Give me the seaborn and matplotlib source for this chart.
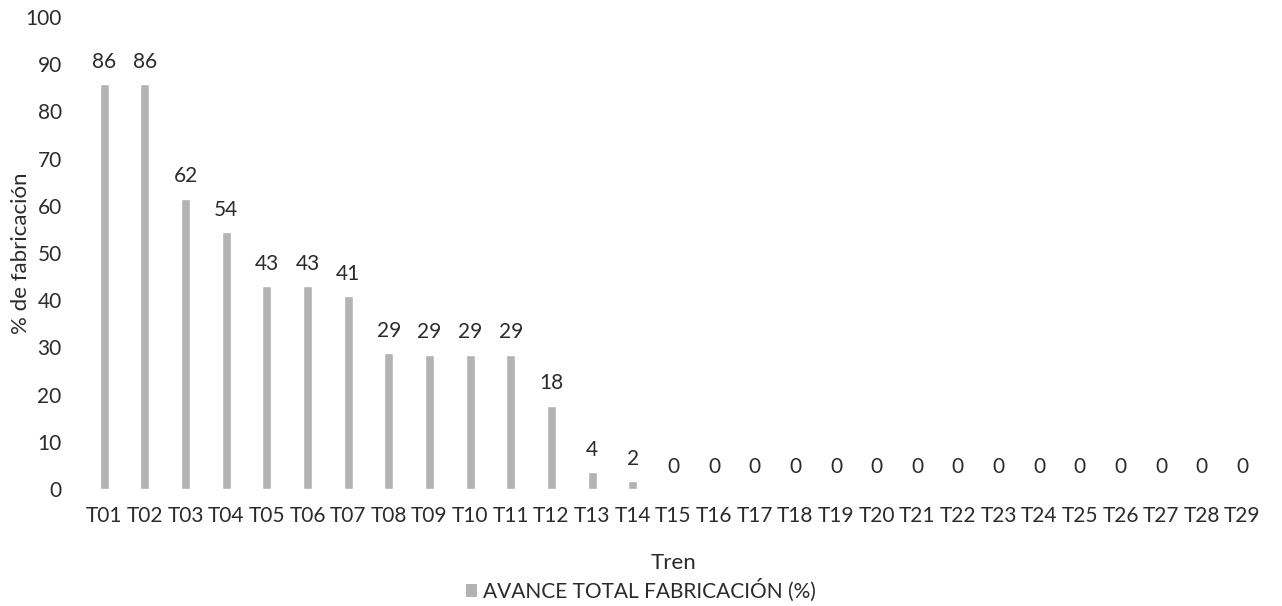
import matplotlib
matplotlib.use("Agg")
import matplotlib.pyplot as plt
import seaborn as sns
import pandas as pd
from matplotlib.patches import Patch

trenes = [f"T{i:02d}" for i in range(1, 30)]
avance = [85.7, 85.7, 61.5, 54.4, 43.0, 43.0, 40.8, 28.8, 28.4, 28.4, 28.4, 17.6, 3.6, 1.6,
          0, 0, 0, 0, 0, 0, 0, 0, 0, 0, 0, 0, 0, 0, 0]
etiquetas = ["86", "86", "62", "54", "43", "43", "41", "29", "29", "29", "29", "18", "4", "2",
             "0", "0", "0", "0", "0", "0", "0", "0", "0", "0", "0", "0", "0", "0", "0"]
serie = "AVANCE TOTAL FABRICACIÓN (%)"

df = pd.DataFrame({"Tren": trenes, "Avance": avance})

sns.set_style("white")
plt.rcParams["font.family"] = ["Lato", "DejaVu Sans"]
txt = "#2b2b2b"
bar_color = "#b3b3b3"

fig = plt.figure(figsize=(12.82, 6.06), dpi=100)
ax = fig.add_axes([0.0655, 0.193, 0.9195, 0.779])
sns.barplot(data=df, x="Tren", y="Avance", color=bar_color, width=0.22, ax=ax, saturation=1)

for c in ax.containers:
    ax.bar_label(c, labels=etiquetas, padding=9, fontsize=15, color=txt)

ax.set_ylim(0, 100)
ax.set_yticks(range(0, 101, 10))
ax.tick_params(axis="both", length=0, labelsize=15, labelcolor=txt)
ax.tick_params(axis="y", pad=16)
ax.tick_params(axis="x", pad=12)
for s in ax.spines.values():
    s.set_visible(False)
ax.set_xlabel("Tren", fontsize=16, color=txt, labelpad=20)
ax.set_ylabel("% de fabricación", fontsize=16, color=txt)
ax.yaxis.set_label_coords(-0.045, 0.5)
ax.set_xlim(-0.5, len(trenes) - 0.5)

fig.legend(handles=[Patch(facecolor=bar_color, edgecolor="none")], labels=[serie],
           loc="center", bbox_to_anchor=(0.5, 0.026), frameon=False, fontsize=15,
           handlelength=0.55, handleheight=0.55, handletextpad=0.3, labelcolor=txt)

fig.savefig("out.png", dpi=100)
